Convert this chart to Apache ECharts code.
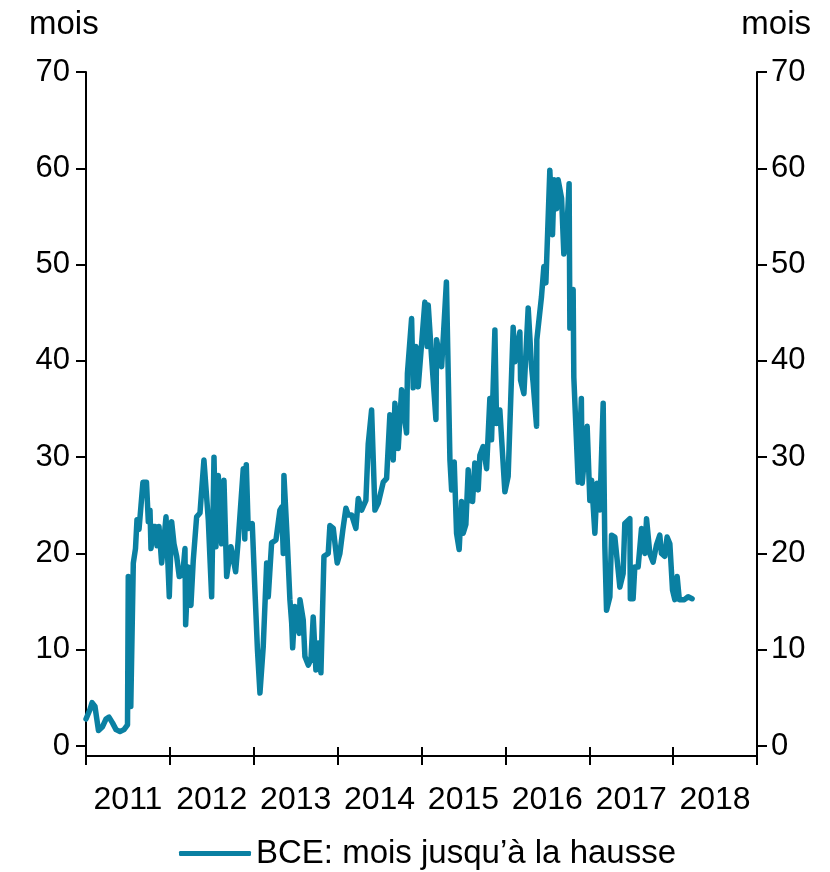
<!DOCTYPE html>
<html>
<head>
<meta charset="utf-8">
<script src="https://cdn.jsdelivr.net/npm/echarts@6/dist/echarts.min.js"></script>
<style>
html,body{margin:0;padding:0;background:#fff;}
#chart{width:830px;height:872px;}
</style>
</head>
<body>
<div id="chart"></div>
<script>
// Year labels on the x axis
var yearLabels = ['2011','2012','2013','2014','2015','2016','2017','2018'];
// Y axis ticks
var yMin = 0, yMax = 70, yStep = 10;
var seriesName = 'BCE: mois jusqu\u2019\u00e0 la hausse';
// Time in decimal years
var t = [
2011.000,2011.048,2011.072,2011.107,2011.149,2011.197,2011.238,2011.274,2011.316,2011.358,
2011.405,2011.453,2011.495,2011.504,2011.534,2011.542,2011.564,2011.590,2011.608,2011.632,
2011.656,2011.679,2011.721,2011.743,2011.763,2011.775,2011.799,2011.828,2011.846,2011.870,
2011.902,2011.930,2011.954,2011.993,2012.021,2012.049,2012.081,2012.112,2012.153,2012.180,
2012.188,2012.219,2012.251,2012.279,2012.319,2012.359,2012.406,2012.458,2012.498,2012.526,
2012.549,2012.577,2012.617,2012.645,2012.677,2012.728,2012.784,2012.815,2012.875,2012.893,
2012.911,2012.934,2012.982,2013.014,2013.044,2013.074,2013.113,2013.154,2013.173,2013.213,
2013.265,2013.312,2013.333,2013.352,2013.360,2013.396,2013.431,2013.452,2013.464,2013.491,
2013.515,2013.542,2013.551,2013.590,2013.610,2013.650,2013.682,2013.709,2013.741,2013.769,
2013.801,2013.837,2013.888,2013.908,2013.948,2013.995,2014.027,2014.063,2014.099,2014.126,
2014.167,2014.218,2014.246,2014.286,2014.305,2014.337,2014.365,2014.405,2014.445,2014.484,
2014.544,2014.584,2014.623,2014.663,2014.683,2014.722,2014.763,2014.784,2014.822,2014.832,
2014.882,2014.901,2014.933,2014.961,2014.981,2015.040,2015.068,2015.080,2015.120,2015.172,
2015.180,2015.240,2015.297,2015.339,2015.359,2015.390,2015.418,2015.449,2015.478,2015.497,
2015.529,2015.557,2015.577,2015.609,2015.636,2015.676,2015.696,2015.735,2015.776,2015.815,
2015.835,2015.875,2015.895,2015.934,2015.994,2016.033,2016.093,2016.113,2016.173,2016.181,
2016.221,2016.272,2016.312,2016.331,2016.372,2016.375,2016.431,2016.459,2016.483,2016.530,
2016.562,2016.582,2016.610,2016.629,2016.670,2016.697,2016.729,2016.760,2016.769,2016.808,
2016.816,2016.868,2016.888,2016.906,2016.916,2016.975,2017.007,2017.028,2017.067,2017.094,
2017.126,2017.166,2017.186,2017.206,2017.246,2017.266,2017.305,2017.365,2017.404,2017.424,
2017.484,2017.490,2017.523,2017.543,2017.583,2017.623,2017.663,2017.683,2017.722,2017.761,
2017.802,2017.841,2017.861,2017.901,2017.928,2017.961,2017.993,2018.020,2018.048,2018.074,
2018.134,2018.179,2018.226
];
// Months until the ECB hike
var v = [
2.8,3.8,4.5,4.1,1.6,2.0,2.8,3.0,2.4,1.7,
1.5,1.7,2.2,17.6,4.1,4.3,19.0,20.5,23.5,22.5,
25.0,27.4,27.4,23.3,24.5,20.5,22.8,22.8,20.8,22.8,
19.0,21.5,23.8,15.5,23.3,21.0,19.7,17.6,17.8,20.5,
12.6,18.6,14.6,19.3,23.8,24.2,29.7,23.5,15.5,30.0,
20.7,28.1,21.0,27.6,17.6,20.7,18.1,21.4,28.8,21.5,
29.2,22.6,23.1,16.2,10.0,5.5,10.3,19.0,15.5,21.1,
21.4,24.5,24.8,20.0,28.1,22.0,15.2,12.8,10.2,14.5,
13.0,11.7,15.2,13.1,9.3,8.4,9.0,13.4,7.9,10.7,
7.6,19.7,20.0,22.9,22.6,19.0,20.0,22.5,24.7,24.0,
24.0,22.6,25.7,24.5,24.3,25.5,31.4,34.9,24.5,25.2,
27.4,27.8,34.4,29.7,35.6,30.9,37.0,35.0,32.5,38.7,
44.4,37.2,41.5,37.3,37.2,46.1,41.5,45.8,40.4,33.9,
42.2,39.4,48.2,29.7,26.6,29.5,22.1,20.4,25.4,22.1,
23.0,28.7,25.5,25.4,29.4,26.6,30.2,31.1,28.8,36.1,
31.8,43.2,33.5,34.9,26.4,28.0,43.5,39.9,43.0,38.0,
36.6,45.5,39.4,37.7,33.2,42.2,46.7,49.8,48.1,59.8,
53.1,58.8,55.8,58.8,56.9,51.1,52.9,58.4,43.4,47.4,
38.3,27.4,27.3,36.1,27.3,33.2,25.5,27.6,22.1,27.3,
24.5,35.6,20.7,14.1,15.5,21.9,21.7,16.5,17.9,23.1,
23.6,15.3,15.3,18.6,18.6,22.6,20.0,23.6,20.0,19.1,
20.9,21.9,20.0,19.7,21.7,21.0,16.2,15.2,17.6,15.2,
15.2,15.5,15.3
];

var FONT = "'Liberation Sans', Arial, sans-serif";
var data = t.map(function (x, i) { return [x, v[i]]; });
var chart = echarts.init(document.getElementById('chart'), null, {renderer: 'canvas'});
var axisBlack = {color: '#000', width: 2};
chart.setOption({
  backgroundColor: '#fff',
  animation: false,
  textStyle: {fontFamily: FONT},
  title: [
    {text: 'mois', left: 24, top: 3, textStyle: {fontSize: 33, fontWeight: 'normal', color: '#000', fontFamily: FONT}},
    {text: 'mois', right: 14, top: 3, textStyle: {fontSize: 33, fontWeight: 'normal', color: '#000', fontFamily: FONT}}
  ],
  legend: {
    top: 832, left: 174,
    icon: 'roundRect', itemWidth: 72, itemHeight: 5, itemGap: 10,
    textStyle: {fontSize: 33, color: '#000', fontFamily: FONT},
    data: [seriesName]
  },
  grid: [
    {left: 86, right: 73, top: 72, bottom: 126},
    {left: 86, right: 73, top: 72, bottom: 116},
    {left: 86, right: 73, top: 72, bottom: 116}
  ],
  xAxis: [
    {type: 'value', gridIndex: 0, min: 2011, max: 2019, show: false},
    {type: 'category', gridIndex: 1, data: yearLabels, boundaryGap: true,
     axisLine: {lineStyle: axisBlack},
     axisTick: {show: true, length: 9, interval: 0, lineStyle: axisBlack},
     axisLabel: {fontSize: 32, color: '#000', margin: 28, interval: 0, hideOverlap: false, fontFamily: FONT}},
    {type: 'category', gridIndex: 2, data: yearLabels, boundaryGap: true,
     axisLine: {show: false},
     axisTick: {show: true, inside: true, length: 9, interval: 0, lineStyle: axisBlack},
     axisLabel: {show: false}}
  ],
  yAxis: [
    {type: 'value', gridIndex: 0, position: 'left', min: yMin, max: yMax, interval: yStep,
     axisLine: {show: false}, splitLine: {show: false},
     axisTick: {show: true, length: 10, lineStyle: axisBlack},
     axisLabel: {fontSize: 31, color: '#000', margin: 16, fontFamily: FONT}},
    {type: 'value', gridIndex: 0, position: 'right', min: yMin, max: yMax, interval: yStep,
     axisLine: {show: false}, splitLine: {show: false},
     axisTick: {show: true, length: 10, lineStyle: axisBlack},
     axisLabel: {fontSize: 31, color: '#000', margin: 14, fontFamily: FONT}},
    {type: 'value', gridIndex: 1, position: 'left', min: 0, max: 1,
     axisLine: {show: true, lineStyle: axisBlack}, axisTick: {show: false},
     axisLabel: {show: false}, splitLine: {show: false}},
    {type: 'value', gridIndex: 1, position: 'right', min: 0, max: 1,
     axisLine: {show: true, lineStyle: axisBlack}, axisTick: {show: false},
     axisLabel: {show: false}, splitLine: {show: false}},
    {type: 'value', gridIndex: 2, show: false}
  ],
  series: [{
    name: seriesName,
    type: 'line',
    xAxisIndex: 0, yAxisIndex: 0,
    data: data,
    showSymbol: false,
    symbol: 'none',
    lineStyle: {color: '#0a80a2', width: 5.5, join: 'round', cap: 'round'},
    itemStyle: {color: '#0a80a2'}
  }]
});
</script>
</body>
</html>
